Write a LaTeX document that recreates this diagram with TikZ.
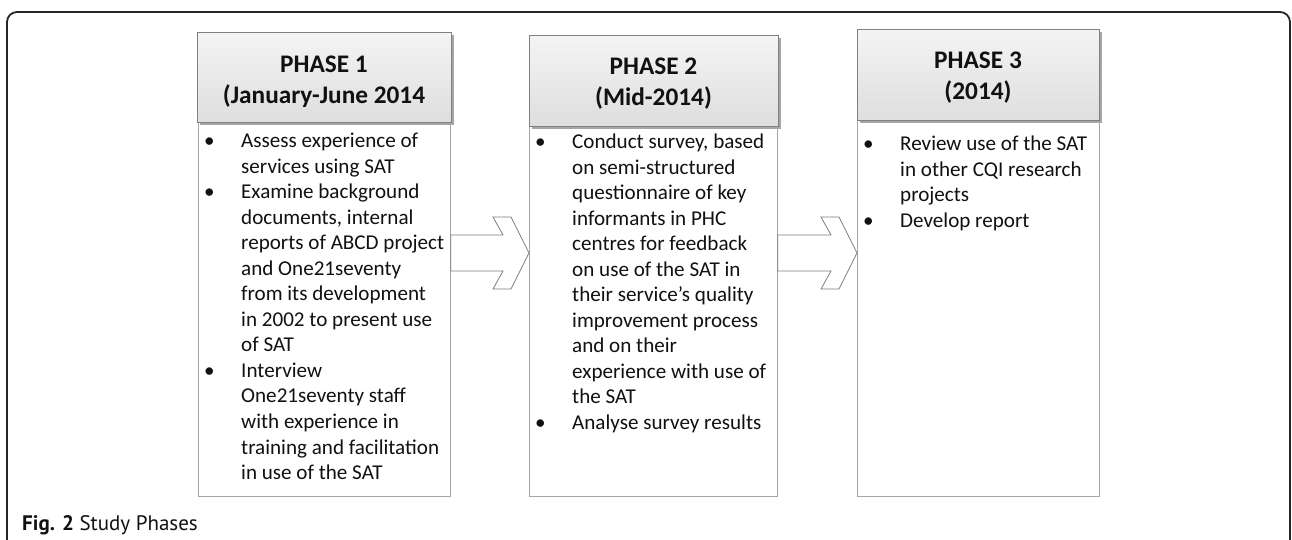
\documentclass[tikz,border=0pt]{standalone}
\usepackage{fontspec}
\setmainfont{Carlito}
\newfontfamily\capfont{PT Sans}
\usetikzlibrary{calc,shadows}

\definecolor{framecol}{HTML}{262626}
\definecolor{headline}{HTML}{808080}
\definecolor{bodyline}{HTML}{A6A6A6}
\definecolor{headtop}{HTML}{F4F4F4}
\definecolor{headbot}{HTML}{DEDEDE}
\definecolor{arrowline}{HTML}{7F7F7F}
\definecolor{textcol}{HTML}{111111}

\newcommand{\headfont}{\fontsize{25.3}{31}\selectfont\bfseries}
\newcommand{\bodyfont}{\fontsize{21.1}{25.5}\selectfont}

\begin{document}
\begin{tikzpicture}[x=1pt,y=-1pt,
  headbox/.style={draw=headline, line width=0.8pt, top color=headtop, bottom color=headbot,
    inner sep=0pt, anchor=north west,
    drop shadow={shadow xshift=2.2pt, shadow yshift=-2.2pt, fill=black!35, opacity=1}},
  bodybox/.style={draw=bodyline, line width=0.8pt, fill=white, inner sep=0pt, anchor=north west},
  headtext/.style={font=\headfont, text=textcol, inner sep=0pt, anchor=base},
  bodytext/.style={font=\bodyfont, text=textcol, inner sep=0pt, anchor=base west},
  blockarrow/.style={draw=arrowline, line width=0.8pt, fill=white, line join=miter}]

\useasboundingbox (0,0) rectangle (1292,540);
\fill[white] (0,0) rectangle (1292,540);

% outer frame, open towards the bottom of the page
\draw[framecol, line width=1.8pt, rounded corners=10pt] (7,12) rectangle (1290,580);

% phase bodies
\node[bodybox, minimum width=252pt, minimum height=374pt] (b1) at (198,122) {};
\node[bodybox, minimum width=248pt, minimum height=370pt] (b2) at (529,126) {};
\node[bodybox, minimum width=242pt, minimum height=376pt] (b3) at (857,120) {};

% phase headers
\node[headbox, minimum width=254pt, minimum height=90pt] (h1) at (197,32) {};
\node[headbox, minimum width=249pt, minimum height=91pt] (h2) at (529,35) {};
\node[headbox, minimum width=242pt, minimum height=91pt] (h3) at (857,29) {};

% block arrows between the phases
\coordinate (a1s) at (b1.east |- 0,253);
\coordinate (a1t) at (b2.west |- 0,253);
\coordinate (a2s) at (b2.east |- 0,253);
\coordinate (a2t) at (b3.west |- 0,253);
\foreach \s/\t in {a1s/a1t, a2s/a2t}{
  \draw[blockarrow] (\s) ++(0,-18) -- ($(\t)+(-26,-18)$) -- ($(\t)+(-36,-36)$)
    -- ($(\t)+(-18,-36)$) -- (\t) -- ($(\t)+(-18,36)$) -- ($(\t)+(-36,36)$)
    -- ($(\t)+(-26,18)$) -- ($(\s)+(0,18)$) -- cycle;
}

% header texts
\node[headtext] (t1) at (324,72.3) {\begin{tabular}[t]{@{}c@{}}PHASE 1\\(January-June 2014\end{tabular}};
\node[headtext] (t2) at (653.5,75) {\begin{tabular}[t]{@{}c@{}}PHASE 2\\(Mid-2014)\end{tabular}};
\node[headtext] (t3) at (978,68.3) {\begin{tabular}[t]{@{}c@{}}PHASE 3\\(2014)\end{tabular}};

% body texts
\node[bodytext] (l1) at (204,148) {\begin{tabular}[t]{@{}p{37pt}@{}l@{}}
  •& Assess experience of\\
   & services using SAT\\
  •& Examine background\\
   & documents, internal\\
   & reports of ABCD project\\
   & and One21seventy\\
   & from its development\\
   & in 2002 to present use\\
   & of SAT\\
  •& Interview\\
   & One21seventy staff\\
   & with experience in\\
   & training and facilitation\\
   & in use of the SAT
\end{tabular}};

\node[bodytext] (l2) at (535,149) {\begin{tabular}[t]{@{}p{37pt}@{}l@{}}
  •& Conduct survey, based\\
   & on semi-structured\\
   & questionnaire of key\\
   & informants in PHC\\
   & centres for feedback\\
   & on use of the SAT in\\
   & their service’s quality\\
   & improvement process\\
   & and on their\\
   & experience with use of\\
   & the SAT\\
  •& Analyse survey results
\end{tabular}};

\node[bodytext] (l3) at (863,151) {\begin{tabular}[t]{@{}p{37pt}@{}l@{}}
  •& Review use of the SAT\\
   & in other CQI research\\
   & projects\\
  •& Develop report
\end{tabular}};

% caption
\node[inner sep=0pt, anchor=base west, text=textcol, font=\capfont\fontsize{21}{24}\selectfont] (cap) at (22,530)
  {\textbf{Fig. 2} Study Phases};
\end{tikzpicture}
\end{document}
